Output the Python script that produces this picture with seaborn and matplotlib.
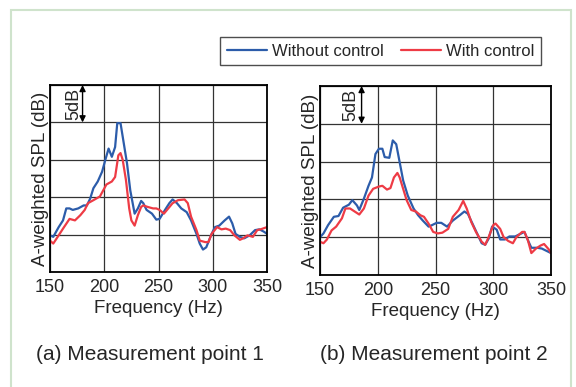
import numpy as np
import pandas as pd
import matplotlib
matplotlib.use("Agg")
import matplotlib.pyplot as plt
from matplotlib.patches import Rectangle
import seaborn as sns

# measurement point 1
freq_a_wo = [150, 153, 158, 162, 165, 168, 171, 176, 181, 184, 187, 190, 194, 198, 201, 204, 207,
             210, 212, 215, 217, 221, 224, 228, 231, 234, 236, 239, 244, 248, 251, 256, 260, 263,
             267, 271, 276, 280, 285, 288, 291, 294, 299, 302, 306, 311, 315, 318, 321, 325, 329,
             334, 339, 343, 347, 350]
spl_a_wo = [4.9, 4.7, 6.0, 6.9, 8.5, 8.5, 8.3, 8.5, 8.9, 8.9, 9.8, 11.2, 12.1, 13.4, 15.0, 16.5, 15.4,
            16.7, 19.9, 19.9, 18.1, 14.5, 10.9, 7.8, 8.5, 9.5, 9.2, 8.3, 7.8, 7.0, 7.1, 8.3, 9.2, 9.7,
            9.2, 8.5, 8.0, 6.9, 5.1, 3.8, 3.0, 3.3, 5.1, 6.0, 6.2, 6.9, 7.4, 6.5, 5.1, 4.7, 4.5,
            4.9, 5.6, 5.7, 5.4, 5.1]
freq_a_w = [150, 153, 158, 162, 168, 173, 178, 182, 185, 190, 196, 199, 202, 207, 210, 213, 215, 217,
            220, 223, 225, 228, 231, 234, 236, 240, 245, 248, 251, 255, 259, 263, 268, 274, 277, 280,
            285, 288, 293, 296, 299, 304, 308, 312, 316, 320, 325, 328, 332, 337, 341, 344, 350]
spl_a_w = [4.2, 3.8, 4.9, 5.8, 7.1, 6.9, 7.6, 8.3, 9.2, 9.6, 10.1, 10.9, 11.7, 12.1, 12.7, 15.6, 15.9, 15.0,
           12.3, 8.5, 6.9, 6.2, 7.6, 8.7, 8.9, 8.7, 8.5, 8.5, 8.3, 7.8, 8.5, 9.2, 9.6, 9.7, 9.2, 7.4,
           5.6, 4.2, 4.0, 4.0, 5.1, 6.0, 5.7, 5.8, 5.6, 4.9, 4.3, 4.5, 4.9, 4.7, 5.6, 5.7, 6.0]

# measurement point 2
freq_b_wo = [150, 153, 157, 162, 166, 170, 175, 178, 182, 184, 188, 192, 195, 198, 201, 204, 206, 210,
             213, 216, 219, 222, 226, 231, 235, 239, 244, 247, 251, 255, 260, 265, 271, 275, 278, 282,
             286, 290, 293, 296, 299, 303, 306, 310, 314, 319, 323, 327, 330, 333, 338, 342, 346, 350]
spl_b_wo = [5.0, 5.5, 6.6, 7.7, 7.8, 8.9, 9.3, 9.9, 9.2, 8.6, 10.1, 11.8, 12.9, 16.0, 16.7, 16.7, 15.6, 15.5,
            17.8, 17.3, 14.9, 12.5, 10.5, 8.8, 7.9, 7.2, 6.4, 6.6, 6.9, 6.9, 6.4, 7.2, 7.9, 8.4, 8.1, 6.8,
            5.5, 4.2, 4.0, 4.8, 6.4, 6.0, 4.7, 4.7, 5.1, 5.1, 5.4, 5.7, 4.6, 3.6, 3.6, 3.5, 3.2, 2.9]
freq_b_w = [150, 153, 156, 160, 164, 169, 172, 176, 180, 184, 188, 192, 196, 201, 204, 208, 211, 214,
            217, 219, 222, 225, 229, 233, 237, 240, 244, 248, 252, 256, 261, 265, 270, 274, 277, 281,
            285, 290, 293, 296, 300, 302, 306, 309, 313, 317, 320, 325, 327, 330, 333, 337, 341, 344,
            348, 350]
spl_b_w = [4.4, 4.2, 4.7, 5.9, 6.4, 7.5, 8.8, 8.8, 8.4, 8.0, 8.8, 10.5, 11.4, 11.7, 11.8, 11.3, 11.5, 12.9,
           13.5, 12.9, 11.4, 9.9, 8.6, 8.4, 7.9, 7.7, 6.8, 5.7, 5.5, 5.6, 6.1, 7.7, 8.6, 9.8, 8.8, 7.0,
           5.7, 4.4, 4.0, 5.0, 6.6, 6.8, 6.1, 5.0, 4.5, 4.2, 5.0, 5.7, 5.7, 4.6, 2.9, 3.5, 3.9, 4.1,
           3.4, 2.9]

xticks = [150, 200, 250, 300, 350]
series_names = ["Without control", "With control"]
captions = ["(a) Measurement point 1", "(b) Measurement point 2"]

colors = {"Without control": "#2c5caa", "With control": "#ee3b45"}


def make_df(f_wo, s_wo, f_w, s_w):
    d1 = pd.DataFrame({"freq": f_wo, "spl": s_wo, "case": series_names[0]})
    d2 = pd.DataFrame({"freq": f_w, "spl": s_w, "case": series_names[1]})
    return pd.concat([d1, d2], ignore_index=True)


data = [make_df(freq_a_wo, spl_a_wo, freq_a_w, spl_a_w),
        make_df(freq_b_wo, spl_b_wo, freq_b_w, spl_b_w)]

sns.set_style("white")
plt.rcParams['font.family'] = ['Liberation Sans', 'DejaVu Sans']

W, H = 576, 387
fig = plt.figure(figsize=(W / 100, H / 100), dpi=100)

# axes boxes in pixels: left, top, right, bottom
boxes = [(50, 85, 267, 272), (320, 86, 551, 275)]
arrow_x = [180, 186]
text_x = [172, 177]
cap_x = [150, 434]

axes = []
for i, df in enumerate(data):
    l, t, r, b = boxes[i]
    ax = fig.add_axes([l / W, 1 - b / H, (r - l) / W, (b - t) / H])
    sns.lineplot(data=df, x="freq", y="spl", hue="case", palette=colors,
                 linewidth=1.6, ax=ax, legend=False, sort=False)
    ax.set_xlim(150, 350)
    ax.set_ylim(0, 25)
    ax.set_xticks(xticks)
    ax.set_yticks([0, 5, 10, 15, 20, 25])
    ax.set_yticklabels([])
    ax.grid(True, color="#333333", linewidth=0.9)
    ax.tick_params(axis="x", length=0, labelsize=13, pad=5)
    ax.tick_params(axis="y", length=0, pad=0)
    for s in ax.spines.values():
        s.set_color("black")
        s.set_linewidth(1.3)
    ax.set_xlabel("Frequency (Hz)", fontsize=13.5, labelpad=3)
    ax.set_ylabel("A-weighted SPL (dB)", fontsize=13.5, labelpad=1)
    ax.annotate("", xy=(arrow_x[i], 20), xytext=(arrow_x[i], 25),
                arrowprops=dict(arrowstyle="<|-|>", color="black", lw=1.0,
                                shrinkA=0, shrinkB=0, mutation_scale=9))
    ax.text(text_x[i], 22.5, "5dB", rotation=90, ha="center", va="center", fontsize=13)
    fig.text(cap_x[i] / W, 1 - 355 / H, captions[i], ha="center", va="center", fontsize=15)
    axes.append(ax)

handles = [plt.Line2D([], [], color=colors[n], linewidth=1.6) for n in series_names]
leg = fig.legend(handles, series_names, loc="center", ncol=2,
                 bbox_to_anchor=(380.5 / W, 1 - 51 / H), frameon=True, fancybox=False,
                 fontsize=12, handlelength=2.4, handletextpad=0.3, columnspacing=1.0,
                 borderpad=0.4)
leg.get_frame().set_edgecolor("#222222")
leg.get_frame().set_linewidth(1.0)

# light green outer frame
fig.patches.append(Rectangle((11 / W, -0.05), 560 / W, 1.05 - 10 / H, transform=fig.transFigure,
                             fill=False, edgecolor="#cfe3cc", linewidth=1.5))

fig.savefig("out.png", dpi=100)
